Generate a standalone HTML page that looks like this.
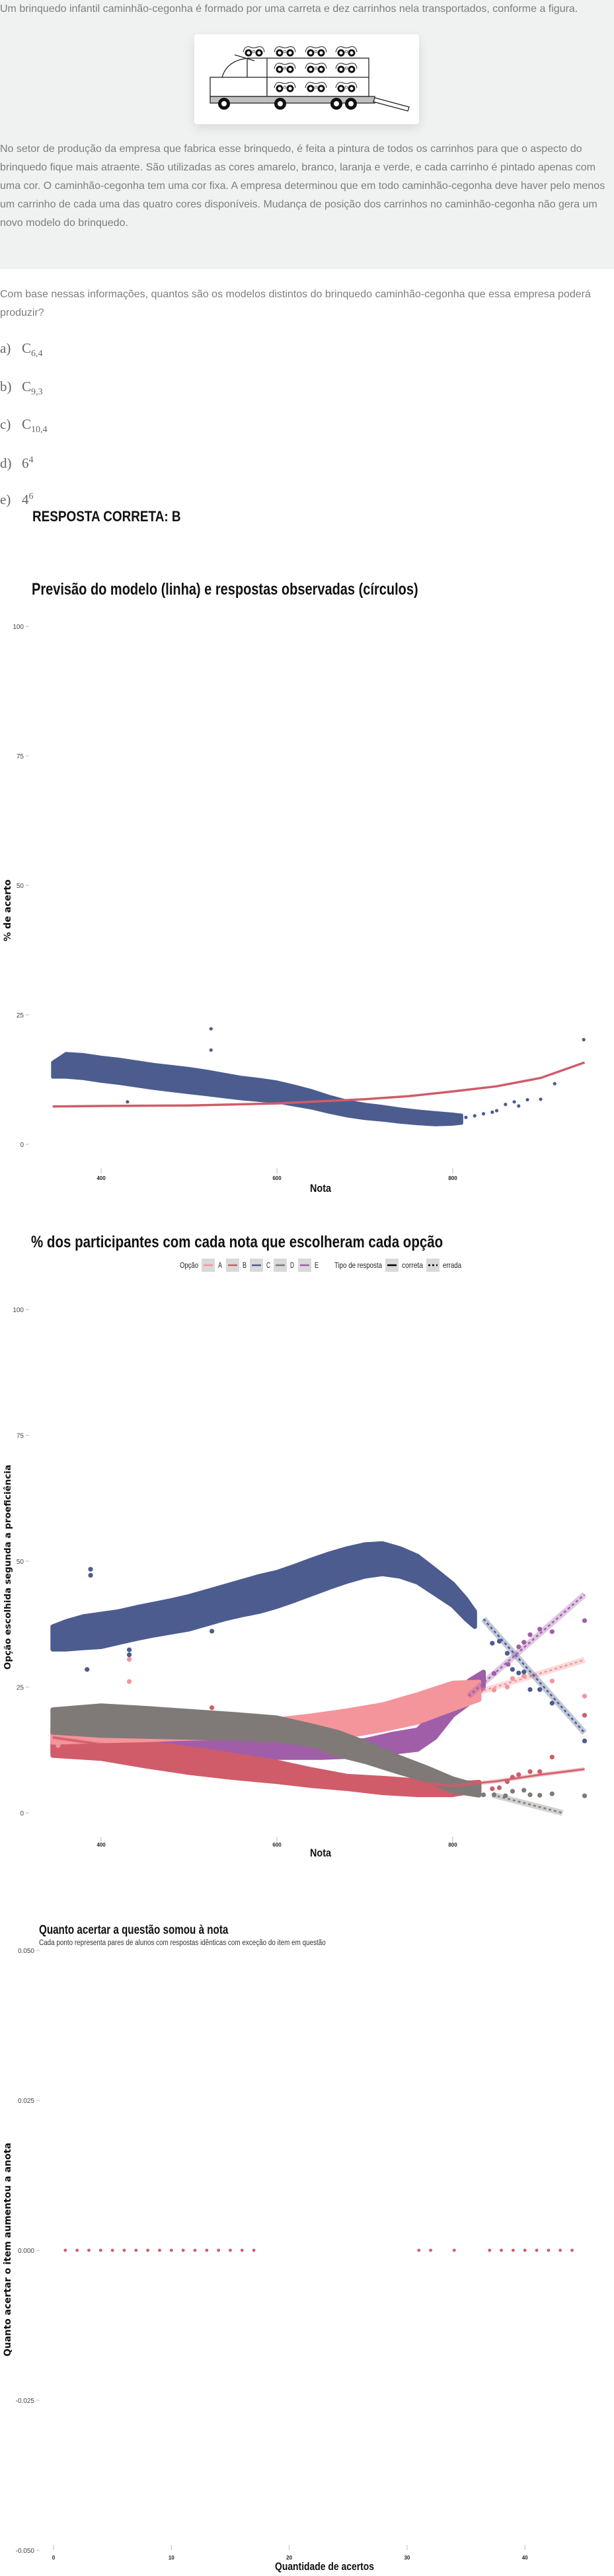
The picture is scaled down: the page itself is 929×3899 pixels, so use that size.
<!DOCTYPE html>
<html lang="pt">
<head>
<meta charset="utf-8">
<title>Caminhão-cegonha</title>
<style>
  html,body{margin:0;padding:0;}
  body{width:929px;height:3899px;position:relative;background:#fff;overflow:hidden;
       font-family:"Liberation Sans",sans-serif;}
  .bg{position:absolute;left:0;top:0;width:929px;height:407px;background:#f0f2f1;}
  .t{position:absolute;left:0;white-space:nowrap;color:#7b7f80;font-size:16px;line-height:28px;}
  .opt{position:absolute;left:0;white-space:nowrap;color:#666;font-family:"Liberation Serif",serif;font-size:21px;line-height:30px;}
  .opt .l{display:inline-block;width:33px;}
  .opt sub{font-size:14px;}
  .opt sup{font-size:14px;}
  .h{position:absolute;white-space:nowrap;font-family:"Liberation Sans",sans-serif;font-weight:bold;color:#111;transform-origin:0 50%;}
  svg.main{position:absolute;left:0;top:0;}
  .pic{position:absolute;left:294px;top:52px;width:340px;height:136px;background:#fff;border-radius:4px;
       box-shadow:0 6px 16px rgba(0,0,0,0.10);}
</style>
</head>
<body>
<div class="bg"></div>
<div class="t" style="top:0px">Um brinquedo infantil caminhão-cegonha é formado por uma carreta e dez carrinhos nela transportados, conforme a figura.</div>

<div class="pic">
<svg width="340" height="136" viewBox="294 52 340 136">
  <g stroke="#222" stroke-width="1.3" fill="none">
    <rect x="318" y="117" width="86" height="29" fill="#fff"/>
    <rect x="404" y="88" width="154" height="58" fill="#fff"/>
    <line x1="404" y1="117" x2="558" y2="117"/>
    <line x1="374" y1="88" x2="374" y2="117"/>
    <line x1="374" y1="88" x2="404" y2="88"/>
    <path d="M336 117 Q344 90 378 88"/>
    <line x1="355" y1="83" x2="385" y2="92"/>
    <rect x="318" y="146" width="249" height="10" fill="#c0c0c0"/>
    <polygon points="567,148 619,162 617,168 565,154" fill="#fff"/>
  </g>
  <g fill="#111">
    <circle cx="339" cy="157" r="9"/><circle cx="424" cy="157" r="9"/>
    <circle cx="509" cy="157" r="9"/><circle cx="531" cy="157" r="9"/>
  </g>
  <g fill="#fff">
    <circle cx="339" cy="157" r="4"/><circle cx="424" cy="157" r="4"/>
    <circle cx="509" cy="157" r="4"/><circle cx="531" cy="157" r="4"/>
  </g>
  <g id="cars"></g>
</svg>
</div>

<div class="t" style="top:212px">No setor de produção da empresa que fabrica esse brinquedo, é feita a pintura de todos os carrinhos para que o aspecto do<br>brinquedo fique mais atraente. São utilizadas as cores amarelo, branco, laranja e verde, e cada carrinho é pintado apenas com<br>uma cor. O caminhão-cegonha tem uma cor fixa. A empresa determinou que em todo caminhão-cegonha deve haver pelo menos<br>um carrinho de cada uma das quatro cores disponíveis. Mudança de posição dos carrinhos no caminhão-cegonha não gera um<br>novo modelo do brinquedo.</div>

<div class="t" style="top:432px">Com base nessas informações, quantos são os modelos distintos do brinquedo caminhão-cegonha que essa empresa poderá<br>produzir?</div>

<div class="opt" style="top:512px"><span class="l">a)</span>C<sub>6,4</sub></div>
<div class="opt" style="top:570px"><span class="l">b)</span>C<sub>9,3</sub></div>
<div class="opt" style="top:627px"><span class="l">c)</span>C<sub>10,4</sub></div>
<div class="opt" style="top:682px"><span class="l">d)</span>6<sup>4</sup></div>
<div class="opt" style="top:737px"><span class="l">e)</span>4<sup>6</sup></div>

<div class="h" style="left:49px;top:768px;font-size:22px;line-height:28px;transform:scaleX(0.86)">RESPOSTA CORRETA: B</div>
<div class="h" style="left:48px;top:876px;font-size:25px;line-height:32px;transform:scaleX(0.8)">Previsão do modelo (linha) e respostas observadas (círculos)</div>
<div class="h" style="left:47px;top:1864px;font-size:25px;line-height:32px;transform:scaleX(0.82)">% dos participantes com cada nota que escolheram cada opção</div>
<div class="h" style="left:59px;top:2909px;font-size:19px;line-height:26px;transform:scaleX(0.8)">Quanto acertar a questão somou à nota</div>
<div class="h" style="left:59px;top:2934px;font-size:11.5px;line-height:14px;font-weight:normal;color:#333;transform:scaleX(0.86)">Cada ponto representa pares de alunos com respostas idênticas com exceção do item em questão</div>

<svg class="main" width="929" height="3899" id="main"></svg>

<script>
// ---------- Chart 1 data: % de acerto vs nota ----------
const c1BandNota = [345,360,380,400,420,440,460,480,500,520,540,560,580,600,620,640,660,680,700,720,740,760,780,800,810];
const c1BandLo   = [13,13,12.7,12.2,11.8,11.3,10.8,10.4,10,9.6,9.2,8.8,8.5,8.2,7.6,7,6.2,5.5,5,4.7,4.3,4,3.8,3.9,4.1];
const c1BandHi   = [15.8,17.5,17.3,16.8,16.4,15.9,15.4,15,14.6,14.1,13.5,12.9,12.5,12,11.2,10.3,9.2,8.3,7.7,7.3,6.8,6.4,6.1,5.8,5.6];
const c1PtNota = [430,525,525,815,825,835,845,850,860,870,875,885,900,916,949];
const c1PtVal  = [8.2,22.3,18.2,5.2,5.5,5.9,6.2,6.5,7.7,8.2,7.4,8.6,8.7,11.7,20.2];
const c1ModelNota = [345,400,500,600,650,700,750,800,850,900,950];
const c1ModelVal  = [7.3,7.4,7.5,7.9,8.3,8.7,9.3,10.2,11.2,12.8,15.8];
const c1YTicks = [0,25,50,75,100];
const c1XTicks = [400,600,800];

// ---------- Chart 2 data: % escolhendo cada opção ----------
const c2Options = ["A","B","C","D","E"];
const c2Colors  = ["#f4959b","#d05c6a","#4c5c8f","#7f7a77","#a05ea8"];
const aNota=[345,400,450,500,550,600,640,680,720,760,800,830];
const aLo  =[14,14.3,14.5,14.8,15,15,15,15.3,16.5,18,20.6,22.5];
const aHi  =[17,17.3,17.5,17.8,18,18.5,19.3,20.3,21.5,23.5,25.8,26];
const aPtNota=[351,432,432,847,862,868,881,899,913,950];
const aPtVal =[13.4,30.5,26.1,24.4,25,26.7,27.2,24.5,26.2,23.2];
const bNota=[345,400,450,500,550,600,640,680,720,760,800,830];
const bLo  =[11.4,10.8,9.3,8,7,6.2,5.4,4.8,4,3.6,3.6,4.5];
const bHi  =[17,15.3,14,12.8,11.5,10.1,8.6,7.3,6.9,6.4,5.8,6.1];
const bPtNota=[526,432,845,853,862,868,875,888,899,913,950];
const bPtVal =[20.9,11,4.8,5,6.2,7.1,7.6,8.2,8.2,11.1,19.4];
const cNota=[345,360,380,400,420,440,460,480,500,520,540,560,580,600,620,640,660,680,700,720,740,760,780,800,815,825];
const cLo  =[32.5,32.5,32.8,33,33.8,34.6,35.3,35.9,36.5,37.5,38.5,39.3,40,41,42.2,43.5,44.8,46,47,47.5,47,45.8,43.5,41.2,38.5,37];
const cHi  =[37,38,39,39.5,40,40.8,41.5,42.2,43,44,45,46,47,47.8,49,50.3,51.5,52.5,53.3,53.5,52.5,51,48.3,45.5,42.5,40];
const cPtNota=[388,388,384,432,432,526,845,853,862,868,875,881,888,899,913,950];
const cPtVal =[48.4,47.2,28.5,32.4,31.4,36.1,33.7,34.1,31.7,28.5,27.8,28,24.5,24.5,21.8,14.3];
const dNota=[345,400,450,500,550,600,640,670,700,740,770,800,830];
const dLo  =[16,15.4,15.2,15,14.8,14.5,13.5,11.5,10.2,8,6.5,4.3,3.5];
const dHi  =[20.5,21.3,20.8,20.2,19.6,18.9,17.3,16,14,11,9,6.8,5.3];
const dPtNota=[835,847,860,868,881,888,899,913,950];
const dPtVal =[3.6,3.6,3.4,4.3,4.5,3.6,3.5,3.8,3.4];
const eNota=[345,400,450,500,550,600,650,700,730,760,780,800,820,835];
const eLo  =[11.9,11.4,11.3,11.2,11,11,11,11.3,12,12.6,15,19.4,22,25];
const eHi  =[14.5,14.8,14.6,14.4,14.2,14,14,14.4,15.6,16.5,20,23.8,26.4,28];
const ePtNota=[835,847,863,875,881,888,899,913,950];
const ePtVal =[27.7,27.7,29.5,33,33.9,35.4,36.5,36,38.2];
// fitted lines: correct answer (B) solid, wrong options dashed
const bFitNota=[345,400,500,600,700,800,850,900,950];
const bFitVal =[15,13.6,11.3,9,6.8,5.4,6.3,7.6,8.7];
const aFitNota=[818,950]; const aFitVal=[23.4,30.4];
const cFitNota=[835,950]; const cFitVal=[38.5,15.9];
const dFitNota=[845,925]; const dFitVal=[3.6,0];
const eFitNota=[818,950]; const eFitVal=[23.2,43.4];
const c2YTicks=[0,25,50,75,100];
const c2XTicks=[400,600,800];

// ---------- Chart 3 data ----------
const c3Acertos=[1,2,3,4,5,6,7,8,9,10,11,12,13,14,15,16,17,31,32,34,37,38,39,40,41,42,43,44];
const c3Ganho  =[0,0,0,0,0,0,0,0,0,0,0,0,0,0,0,0,0,0,0,0,0,0,0,0,0,0,0,0];
const c3YTicks=[0.05,0.025,0,-0.025,-0.05];
const c3YLabels=["0.050","0.025","0.000","-0.025","-0.050"];
const c3XTicks=[0,10,20,30,40];

const NS="http://www.w3.org/2000/svg";
const svg=document.getElementById('main');
function mk(tag,attrs,parent){const e=document.createElementNS(NS,tag);for(const k in attrs)e.setAttribute(k,attrs[k]);(parent||svg).appendChild(e);return e;}
const NARROW='"Liberation Sans",sans-serif';

// cars in truck figure
(function(){
  const g=document.getElementById('cars');
  const rows=[[77,[368,415,462,508]],[102,[415,462,508]],[131,[415,462,508]]];
  rows.forEach(r=>r[1].forEach(x=>{
    const p=mk('path',{d:`M${x} ${r[0]+2} Q${x+2} ${r[0]-8} ${x+10} ${r[0]-6} Q${x+16} ${r[0]-3} ${x+22} ${r[0]-6} Q${x+31} ${r[0]-8} ${x+32} ${r[0]+2}`,fill:'#fff',stroke:'#222','stroke-width':'1'},g);
    
    
    [x+8,x+24].forEach(cx=>{mk('circle',{cx:cx,cy:r[0]+3,r:5.5,fill:'#111'},g);mk('circle',{cx:cx,cy:r[0]+3,r:2.5,fill:'#fff'},g);});
    mk('circle',{cx:x+16,cy:r[0]+1,r:1.8,fill:'#fff',stroke:'#222','stroke-width':'0.7'},g);
  }));
})();

function yAxis(ticks,labels,yf,xr,name){
  ticks.forEach((v,i)=>{
    const t=mk('text',{x:xr,y:yf(v)+4,'text-anchor':'end','font-size':'10','fill':'#444','font-family':NARROW});
    t.textContent=labels?labels[i]:String(v);
    
    
    mk('line',{x1:xr+3,x2:xr+8,y1:yf(v),y2:yf(v),stroke:'#bbb','stroke-width':'1'});
  });
}
function xAxis(ticks,xf,yTick,yLab,name){
  ticks.forEach(v=>{
    mk('line',{x1:xf(v),x2:xf(v),y1:yTick,y2:yTick+8,stroke:'#bbb','stroke-width':'1'});
    const t=mk('text',{x:xf(v),y:yLab,'text-anchor':'middle','font-size':'8','font-weight':'bold','fill':'#222','font-family':NARROW});
    t.textContent=String(v);
    
    
  });
}
function title(x,y,txt,size,rot,name,len){
  const t=mk('text',{x:x,y:y,'text-anchor':'middle','font-size':size,'font-weight':'bold','fill':'#111','font-family':rot?'"DejaVu Sans",sans-serif':NARROW});
  if(rot)t.setAttribute('transform',`rotate(-90 ${x} ${y})`);
  if(len){t.setAttribute('textLength',len);t.setAttribute('lengthAdjust','spacingAndGlyphs');}
  t.textContent=txt;
  
  
}
function band(nota,lo,hi,xf,yf,color,name,pad){
  let d='M';
  nota.forEach((n,i)=>{d+=(i?' L':'')+xf(n).toFixed(1)+' '+yf(hi[i]).toFixed(1);});
  for(let i=nota.length-1;i>=0;i--)d+=' L'+xf(nota[i]).toFixed(1)+' '+yf(lo[i]).toFixed(1);
  d+=' Z';
  const p=mk('path',{d:d,fill:color,stroke:color,'stroke-width':pad,'stroke-linejoin':'round'});
  
  
}
function points(nota,val,xf,yf,color,r,name){
  nota.forEach((n,i)=>{
    const c=mk('circle',{cx:xf(n),cy:yf(val[i]),r:r,fill:color});
    
    
  });
}
function line(nota,val,xf,yf,color,w,dash,name,ribbon){
  const d=nota.map((n,i)=>(i?'L':'M')+xf(n).toFixed(1)+' '+yf(val[i]).toFixed(1)).join(' ');
  if(ribbon){mk('path',{d:d,fill:'none',stroke:color,'stroke-width':ribbon,'stroke-opacity':'0.35','stroke-linecap':'butt'});}
  const p=mk('path',{d:d,fill:'none',stroke:color,'stroke-width':w,'stroke-dasharray':dash||'none','stroke-linecap':'butt'});
  
  
}

// ---------- Chart 1 ----------
const x1=n=>153+(n-400)*1.33;
const y1=v=>1732-v*7.84;
yAxis(c1YTicks,null,y1,36,'chart1');
xAxis(c1XTicks,x1,1768,1786,'chart1');
title(485,1804,'Nota',17,false,'chart1-x-axis-title',32);
title(16,1378,'% de acerto',14,true,'chart1-y-axis-title');
band(c1BandNota,c1BandLo,c1BandHi,x1,y1,'#4c5c8f','chart1-observed-band',5);
points(c1PtNota,c1PtVal,x1,y1,'#4c5c8f',2.6,'chart1-observed-point');
line(c1ModelNota,c1ModelVal,x1,y1,'#d05c6a',3.5,null,'chart1-model-line');

// ---------- Chart 2 ----------
const x2=x1;
const y2=v=>2744-v*7.62;
// legend
(function(){
  const ly=1915;
  const lt=(x,s,nm,len)=>{const t=mk('text',{x:x,y:ly+4,'font-size':'12','fill':'#222','font-family':NARROW});if(len){t.setAttribute('textLength',len);t.setAttribute('lengthAdjust','spacingAndGlyphs');}t.textContent=s;};
  lt(272,'Opção','legend-title-opcao',28);
  const kx=[305,342,378,414,451];
  c2Options.forEach((o,i)=>{
    const r=mk('rect',{x:kx[i],y:ly-10,width:20,height:20,fill:'#d9d9d9'});
    
    
    mk('line',{x1:kx[i]+3,x2:kx[i]+17,y1:ly,y2:ly,stroke:c2Colors[i],'stroke-width':'2.5'});
    lt(kx[i]+25,o,'legend-label-'+o,6);
  });
  lt(506,'Tipo de resposta','legend-title-tipo',72);
  mk('rect',{x:583,y:ly-10,width:20,height:20,fill:'#d9d9d9'});
  mk('line',{x1:586,x2:600,y1:ly,y2:ly,stroke:'#000','stroke-width':'2.5'});
  lt(608,'correta','legend-label-correta',32);
  mk('rect',{x:645,y:ly-10,width:20,height:20,fill:'#d9d9d9'});
  mk('line',{x1:648,x2:662,y1:ly,y2:ly,stroke:'#000','stroke-width':'2.5','stroke-dasharray':'3 3'});
  lt(670,'errada','legend-label-errada',28);
})();
yAxis(c2YTicks,null,y2,36,'chart2');
xAxis(c2XTicks,x2,2780,2795,'chart2');
title(485,2810,'Nota',17,false,'chart2-x-axis-title',32);
title(16,2372,'Opção escolhida segunda a proeficiência',13.5,true,'chart2-y-axis-title');
const R2=3.6;
band(eNota,eLo,eHi,x2,y2,c2Colors[4],'series-E-band',7);
band(bNota,bLo,bHi,x2,y2,c2Colors[1],'series-B-band',7);
band(aNota,aLo,aHi,x2,y2,c2Colors[0],'series-A-band',7);
band(dNota,dLo,dHi,x2,y2,c2Colors[3],'series-D-band',7);
band(cNota,cLo,cHi,x2,y2,c2Colors[2],'series-C-band',7);
points(ePtNota,ePtVal,x2,y2,c2Colors[4],R2,'series-E-point');
points(bPtNota,bPtVal,x2,y2,c2Colors[1],R2,'series-B-point');
points(aPtNota,aPtVal,x2,y2,c2Colors[0],R2,'series-A-point');
points(dPtNota,dPtVal,x2,y2,c2Colors[3],R2,'series-D-point');
points(cPtNota,cPtVal,x2,y2,c2Colors[2],R2,'series-C-point');
line(bFitNota,bFitVal,x2,y2,c2Colors[1],2.5,null,'series-B-fit-line',6);
line(aFitNota,aFitVal,x2,y2,c2Colors[0],2.5,'4 4','series-A-fit-line',9);
line(cFitNota,cFitVal,x2,y2,c2Colors[2],2.5,'4 4','series-C-fit-line',9);
line(dFitNota,dFitVal,x2,y2,c2Colors[3],2.5,'4 4','series-D-fit-line',9);
line(eFitNota,eFitVal,x2,y2,c2Colors[4],2.5,'4 4','series-E-fit-line',9);

// ---------- Chart 3 ----------
const x3=k=>81+k*17.83;
const y3=v=>3406-v/0.025*227;
yAxis(c3YTicks,c3YLabels,y3,52,'chart3');
xAxis(c3XTicks,x3,3852,3874,'chart3');
title(491,3890,'Quantidade de acertos',17,false,'chart3-x-axis-title',150);
title(16,3405,'Quanto acertar o item aumentou a anota',14,true,'chart3-y-axis-title');
points(c3Acertos,c3Ganho,x3,y3,'#d05c6a',2.4,'chart3-point');
</script>
</body>
</html>
